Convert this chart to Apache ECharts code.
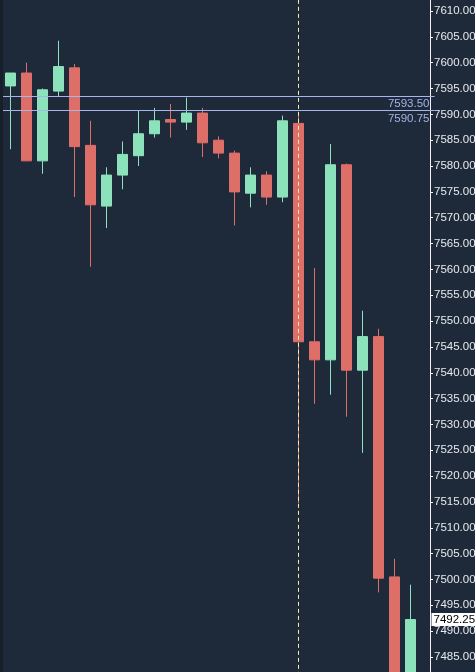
<!DOCTYPE html>
<html>
<head>
<meta charset="utf-8">
<script src="https://cdn.jsdelivr.net/npm/echarts@6/dist/echarts.min.js"></script>
<style>
html, body { margin: 0; padding: 0; background: #1e2a3a; }
#main { width: 475px; height: 672px; }
</style>
</head>
<body>
<div id="main"></div>
<script>
// bars, left to right; last slot is empty
var bars = ['b01','b02','b03','b04','b05','b06','b07','b08','b09','b10','b11','b12','b13',
    'b14','b15','b16','b17','b18','b19','b20','b21','b22','b23','b24','b25','b26','b27'];

// [open, close, low, high]
var ohlc = [
    [7595.50, 7598.00, 7583.25, 7598.00],
    [7598.00, 7581.00, 7581.00, 7600.00],
    [7581.00, 7594.75, 7578.50, 7595.00],
    [7594.50, 7599.25, 7593.50, 7604.25],
    [7599.00, 7583.75, 7574.00, 7599.75],
    [7584.00, 7572.50, 7560.50, 7588.75],
    [7572.25, 7578.25, 7568.00, 7579.75],
    [7578.25, 7582.25, 7575.50, 7584.75],
    [7582.00, 7586.25, 7580.00, 7590.75],
    [7586.25, 7588.75, 7585.50, 7591.25],
    [7589.00, 7588.50, 7585.50, 7592.00],
    [7588.50, 7590.25, 7587.00, 7593.25],
    [7590.25, 7584.50, 7581.75, 7591.25],
    [7585.00, 7582.50, 7581.50, 7585.75],
    [7582.50, 7575.00, 7568.50, 7583.00],
    [7574.75, 7578.25, 7572.00, 7579.75],
    [7578.25, 7574.00, 7572.50, 7579.00],
    [7574.00, 7588.75, 7573.00, 7589.75],
    [7588.25, 7546.00, 7514.75, 7590.00],
    [7546.00, 7542.50, 7534.00, 7560.25],
    [7542.50, 7580.25, 7535.75, 7584.25],
    [7580.25, 7540.50, 7531.50, 7580.50],
    [7540.50, 7547.00, 7524.50, 7552.00],
    [7547.00, 7500.25, 7497.50, 7548.50],
    [7500.50, 7478.00, 7476.00, 7504.00],
    [7479.00, 7492.25, 7477.00, 7499.00]
];

var levels = [7593.50, 7590.75];
var lastPrice = 7492.25;
var cursorBar = 'b19';

var upColor = '#8ce3bb';
var downColor = '#dd6e68';
var levelColor = '#aab4ec';
var font = 'Liberation Sans';

var chart = echarts.init(document.getElementById('main'));

function levelLine(v) {
    return {
        yAxis: v,
        lineStyle: { color: levelColor, type: 'solid', width: 1 },
        label: {
            show: true, position: 'insideEndBottom', distance: [5, 2],
            color: '#a3b3e6', fontFamily: font, fontSize: 11.5,
            formatter: v.toFixed(2)
        }
    };
}

chart.setOption({
    backgroundColor: '#1e2a3a',
    animation: false,
    graphic: [{
        type: 'rect', left: 0, top: 0, z: 100,
        shape: { width: 3, height: 672 },
        style: { fill: '#172029' }
    }],
    grid: {
        left: 2.5, right: 40.5, top: -14.84, bottom: -10.84,
        outerBoundsMode: 'none',
        containLabel: false
    },
    xAxis: {
        type: 'category',
        data: bars,
        boundaryGap: true,
        show: false
    },
    yAxis: {
        type: 'value',
        position: 'right',
        offset: -4.5,
        min: 7480,
        max: 7615,
        interval: 5,
        splitLine: { show: false },
        axisLine: { show: true, lineStyle: { color: '#f2f2f2', width: 1 } },
        axisTick: { show: true, length: 3, lineStyle: { color: '#f2f2f2' } },
        axisLabel: {
            margin: 4,
            color: '#e6e9ee',
            fontFamily: font,
            fontSize: 11.5,
            formatter: function (v) { return v.toFixed(2); }
        }
    },
    series: [{
        type: 'candlestick',
        data: ohlc,
        barWidth: 10,
        itemStyle: {
            color: upColor,
            color0: downColor,
            borderColor: upColor,
            borderColor0: downColor,
            borderWidth: 1
        },
        markLine: {
            symbol: 'none',
            silent: true,
            animation: false,
            data: [
                {
                    xAxis: cursorBar,
                    lineStyle: { color: '#f8eea6', type: [4, 3], width: 1 },
                    label: { show: false }
                },
                levelLine(levels[0]),
                levelLine(levels[1]),
                {
                    yAxis: lastPrice,
                    lineStyle: { color: 'rgba(0,0,0,0)', width: 0 },
                    label: {
                        show: true, position: 'end', distance: -3,
                        color: '#000', backgroundColor: '#ffffff',
                        padding: [0, 1, 0, 2],
                        fontFamily: font, fontSize: 11.5, lineHeight: 13,
                        formatter: lastPrice.toFixed(2)
                    }
                }
            ]
        }
    }]
});
</script>
</body>
</html>
